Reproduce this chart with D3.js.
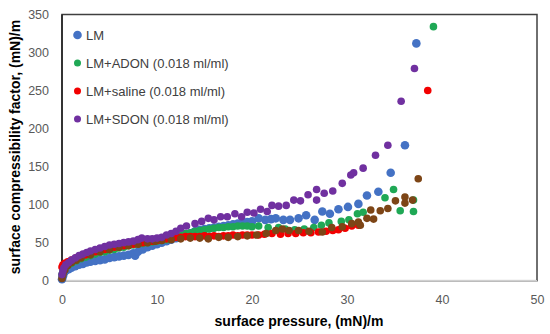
<!DOCTYPE html>
<html><head><meta charset="utf-8">
<script src="https://cdn.jsdelivr.net/npm/d3@7/dist/d3.min.js"></script>
<style>body{margin:0;background:#fff}svg{display:block}</style>
</head><body><svg id="c" width="550" height="334"></svg>
<script>
// ---- data ----
const seriesNames = ["LM", "LM+ADON (0.018 ml/ml)", "LM+saline (0.018 ml/ml)", "LM+SDON (0.018 ml/ml)"];
const xTicks = [0, 10, 20, 30, 40, 50];
const yTicks = [0, 50, 100, 150, 200, 250, 300, 350];

const lmData = [[0,2],[0.1,6],[0.2,10],[0.4,13],[0.7,15],[1.0,17],[1.4,19],[1.8,21],[2.2,22],[2.6,24],[3.0,25],[3.5,26],[4.0,27],[4.5,28],[5.0,30],[5.5,31],[6.0,32],[6.5,33],[7.0,34],[7.5,36],[7.7,33],[8.0,38],[8.5,41],[9.0,44],[9.5,46],[10.0,48],[10.5,50],[11,52],[11.5,54],[12,56],[12.5,58],[13,60],[13.5,62],[14,65],[14.5,67],[15,68],[15.5,69],[16,70],[16.5,71],[17,72],[17.5,73],[18,74],[18.5,75],[19,76],[19.5,77],[20,78],[20.7,82],[21.4,80],[22,81],[22.5,82],[23.3,80],[24,80],[24.9,82],[25.7,86],[26.6,80],[27.4,91],[28.2,88],[29.1,94],[30.1,97],[31.2,101],[32.1,112],[33.3,117],[34.6,142],[36.1,178],[37.3,312]];

const adonData = [[0,8],[0.1,12],[0.3,16],[0.6,20],[1.0,23],[1.5,26],[2.0,29],[2.5,31],[3.0,33],[3.5,35],[4,37],[4.5,38],[5,40],[5.5,41],[6,43],[6.5,44],[7,46],[7.5,47],[8,48],[8.5,49],[9,50],[9.5,51],[10,52],[10.5,53],[11,54],[11.5,56],[12,58],[12.5,60],[13,62],[13.5,63],[14,65],[14.5,66],[15,67],[15.5,68],[16,69],[16.5,70],[17,70],[17.5,71],[18,71],[18.5,72],[19,72],[19.5,72],[20,71],[20.7,72],[21.7,70],[22.8,70],[23.5,68],[24.5,67],[25.5,68],[26.5,70],[27.3,73],[28.1,76],[29.4,78],[30.2,80],[31.1,88],[31.7,90],[34.0,109],[34.9,120],[35.6,92],[37.0,91],[37.0,106],[39.1,334]];

const salineData = [[0,18],[0.1,21],[0.3,23],[0.6,25],[1.0,27],[1.5,30],[2.0,32],[2.5,34],[3,36],[3.5,38],[4,40],[4.5,41],[5,43],[5.5,44],[6,45],[6.5,46],[7,47],[7.5,48],[8,49],[8.5,50],[9,51],[9.5,52],[10,53],[10.5,54],[11,55],[11.5,56],[12,57],[12.5,57],[13,58],[13.5,58],[14,58],[14.5,58],[15,59],[15.5,58],[16,59],[16.5,58],[17,59],[17.5,59],[18,60],[18.5,59],[19,60],[19.5,60],[20,60],[20.7,60],[21.3,61],[22.1,62],[23,61],[23.8,62],[24.6,62],[25.4,63],[26.2,63],[27,64],[27.8,65],[28.5,66],[29.1,67],[29.8,69],[30.5,72],[31.2,73],[38.5,250]];

const otherData = [[0,3],[0.1,8],[0.3,14],[0.6,20],[1,24],[1.5,27],[2,30],[3,34],[4,38],[5,41],[6,44],[7,46],[8,48],[9,50],[9.8,52],[10.5,53],[11.5,54],[12.5,55],[13.5,56],[14.5,56],[15.4,55],[16.5,57],[17.5,57],[18.5,58],[19.5,59],[20.5,60],[21.5,62],[22.5,66],[23.2,68],[23.9,66],[24.9,66],[26,65],[27.4,64],[28.4,70],[29.5,71],[30.5,75],[31.2,77],[31.4,73],[32.1,82],[32.8,81],[32.5,93],[33.5,92],[34.3,95],[35.1,105],[36.1,110],[36.9,106],[36.1,102],[37.5,134]];

const sdonData = [[0,8],[0.1,13],[0.2,17],[0.4,21],[0.7,24],[1,27],[1.4,30],[1.8,33],[2.2,35],[2.6,37],[3,39],[3.5,41],[4,43],[4.5,45],[5,47],[5.5,48],[6,49],[6.5,50],[7,51],[7.5,52],[8,54],[8.4,56],[9,55],[9.5,55],[10,56],[10.5,57],[11,60],[11.5,62],[12,65],[12.5,69],[13.1,72],[14.0,75],[14.7,78],[15.4,82],[16.0,80],[16.7,84],[17.4,84],[18.2,88],[18.9,84],[19.5,90],[20.2,89],[20.9,94],[21.6,91],[22.1,99],[22.8,98],[23.6,99],[24.4,106],[25.1,105],[25.9,113],[26.8,120],[26.8,106],[27.6,115],[28.5,118],[29.5,128],[30.4,139],[30.7,142],[31.7,148],[33.0,165],[34.3,178],[35.7,236],[37.1,279]];

// ---- chart ----
const svg = d3.select("#c");
const L = 62, R = 537, T = 14.5, B = 280.7;
const x = d3.scaleLinear().domain([0, 50]).range([L, R]);
const y = d3.scaleLinear().domain([0, 350]).range([B, T]);
const font = "'Liberation Sans', Arial, sans-serif";

// frame
svg.append("rect").attr("x", L).attr("y", T).attr("width", R - L).attr("height", B - T)
  .attr("fill", "none").attr("stroke", "#404040").attr("stroke-width", 1.5);
svg.append("line").attr("x1", L).attr("x2", R).attr("y1", B).attr("y2", B)
  .attr("stroke", "#d0d0d0").attr("stroke-width", 1.5);
svg.append("line").attr("x1", L).attr("x2", L).attr("y1", T).attr("y2", B)
  .attr("stroke", "#202020").attr("stroke-width", 1.5);

// axes
const xAxis = svg.append("g").attr("transform", `translate(0,${B})`)
  .call(d3.axisBottom(x).tickValues(xTicks).tickSize(0).tickPadding(14));
const yAxis = svg.append("g").attr("transform", `translate(${L},0)`)
  .call(d3.axisLeft(y).tickValues(yTicks).tickSize(0).tickPadding(13));
[xAxis, yAxis].forEach(a => {
  a.select(".domain").remove();
  a.selectAll("text").attr("fill", "#595959").style("font-family", font).style("font-size", "12.5px");
});

// points
const series = [
  {d: lmData, c: "#4472C4", r: 4.3},
  {d: adonData, c: "#1FA855", r: 3.8},
  {d: salineData, c: "#F20000", r: 3.8},
  {d: otherData, c: "#7D4516", r: 3.8},
  {d: sdonData, c: "#7030A0", r: 3.8}
];
series.forEach(s => {
  svg.append("g").selectAll("circle").data(s.d).join("circle")
    .attr("cx", d => x(d[0])).attr("cy", d => y(d[1])).attr("r", s.r)
    .attr("fill", s.c);
});

// legend
const legColors = ["#4472C4", "#1FA855", "#F20000", "#7030A0"];
const legR = [4.3, 3.5, 3.5, 3.5];
const lg = svg.append("g");
seriesNames.forEach((n, i) => {
  const yy = 35 + i * 28;
  lg.append("circle").attr("cx", 77.5).attr("cy", yy).attr("r", legR[i]).attr("fill", legColors[i]);
  lg.append("text").attr("x", 86).attr("y", yy + 4.5).text(n)
    .attr("fill", "#404040").style("font-family", font).style("font-size", "13px");
});

// titles
svg.append("text").attr("x", 299).attr("y", 326).attr("text-anchor", "middle")
  .text("surface pressure, (mN)/m").attr("fill", "#000")
  .style("font-family", font).style("font-size", "14px").style("font-weight", "bold");
svg.append("text").attr("transform", "translate(20,147) rotate(-90)").attr("text-anchor", "middle")
  .text("surface compressibility factor, (mN)/m").attr("fill", "#000")
  .style("font-family", font).style("font-size", "14px").style("font-weight", "bold");
</script></body></html>
